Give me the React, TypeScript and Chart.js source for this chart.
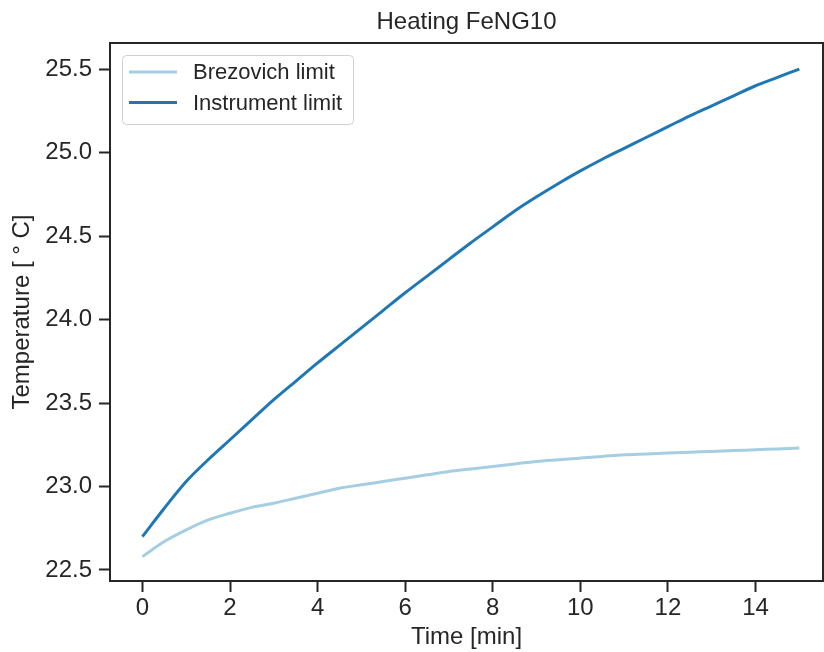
import React, { useEffect, useRef } from "react";
import { Chart, registerables } from "chart.js";

Chart.register(...registerables);

const timeMin = [0, 0.5, 1, 1.5, 2, 2.5, 3, 3.5, 4, 4.5, 5, 5.5, 6, 6.5, 7, 7.5, 8, 8.5, 9, 9.5, 10, 10.5, 11, 11.5, 12, 12.5, 13, 13.5, 14, 14.5, 15];
const brezovich = [22.58, 22.67, 22.74, 22.80, 22.84, 22.875, 22.90, 22.93, 22.96, 22.99, 23.01, 23.03, 23.05, 23.07, 23.09, 23.105, 23.12, 23.135, 23.15, 23.16, 23.17, 23.18, 23.19, 23.195, 23.20, 23.205, 23.21, 23.215, 23.22, 23.225, 23.23];
const instrument = [22.70, 22.87, 23.03, 23.16, 23.28, 23.40, 23.52, 23.63, 23.74, 23.845, 23.95, 24.055, 24.16, 24.26, 24.36, 24.46, 24.555, 24.65, 24.735, 24.815, 24.89, 24.96, 25.025, 25.09, 25.155, 25.22, 25.28, 25.34, 25.40, 25.45, 25.50];
const seriesLabels = ["Brezovich limit", "Instrument limit"];
const seriesColors = ["#a6cee3", "#1f78b4"];
const xTicks = [0, 2, 4, 6, 8, 10, 12, 14];
const yTicks = [22.5, 23.0, 23.5, 24.0, 24.5, 25.0, 25.5];
const titleText = "Heating FeNG10";
const xTitle = "Time [min]";
const yTitle = "Temperature [ ° C]";

const FONT = "Arial, 'Liberation Sans', Helvetica, sans-serif";
const INK = "#262626";

const framePlugin = {
  id: "frame",
  beforeDatasetsDraw(chart: any) {
    const { ctx, chartArea: a } = chart;
    ctx.save();
    ctx.strokeStyle = INK;
    ctx.lineWidth = 2;
    ctx.strokeRect(a.left, a.top, a.right - a.left, a.bottom - a.top);
    ctx.restore();
  },
  afterDraw(chart: any) {
    const { ctx, chartArea: a } = chart;
    ctx.save();
    ctx.fillStyle = INK;
    ctx.font = `24px ${FONT}`;
    ctx.textAlign = "center";
    ctx.textBaseline = "middle";
    ctx.fillText(titleText, (a.left + a.right) / 2, 22);
    ctx.restore();
  },
};

const legendPlugin = {
  id: "boxLegend",
  afterDraw(chart: any) {
    const { ctx, chartArea: a } = chart;
    const x0 = a.left + 12;
    const y0 = a.top + 12;
    const w = 231;
    const h = 69;
    ctx.save();
    ctx.beginPath();
    ctx.roundRect(x0 + 0.5, y0 + 0.5, w, h, 4);
    ctx.fillStyle = "rgba(255,255,255,0.85)";
    ctx.fill();
    ctx.strokeStyle = "#d0d0d0";
    ctx.lineWidth = 1;
    ctx.stroke();
    ctx.font = `22px ${FONT}`;
    ctx.textBaseline = "middle";
    ctx.textAlign = "left";
    chart.data.datasets.forEach((ds: any, i: number) => {
      const yy = y0 + 17 + i * 30.6;
      ctx.beginPath();
      ctx.strokeStyle = ds.borderColor;
      ctx.lineWidth = 3;
      ctx.moveTo(x0 + 7, yy);
      ctx.lineTo(x0 + 55, yy);
      ctx.stroke();
      ctx.fillStyle = INK;
      ctx.fillText(ds.label, x0 + 71, yy + 1);
    });
    ctx.restore();
  },
};

export default function App() {
  const ref = useRef<HTMLCanvasElement | null>(null);
  useEffect(() => {
    if (!ref.current) return;
    const mk = (ys: number[]) => timeMin.map((t, i) => ({ x: t, y: ys[i] }));
    const chart = new Chart(ref.current, {
      type: "line",
      data: {
        datasets: [
          { label: seriesLabels[0], data: mk(brezovich), borderColor: seriesColors[0], backgroundColor: seriesColors[0], borderWidth: 3, pointRadius: 0, cubicInterpolationMode: "monotone", fill: false },
          { label: seriesLabels[1], data: mk(instrument), borderColor: seriesColors[1], backgroundColor: seriesColors[1], borderWidth: 3, pointRadius: 0, cubicInterpolationMode: "monotone", fill: false },
        ],
      },
      options: {
        animation: false,
        responsive: false,
        maintainAspectRatio: false,
        layout: { padding: { left: 0, right: 1, top: 43, bottom: 0 } },
        plugins: {
          legend: { display: false },
          tooltip: { enabled: false },
          title: { display: false },
        },
        scales: {
          x: {
            type: "linear",
            min: -0.74,
            max: 15.54,
            afterBuildTicks: (s: any) => { s.ticks = xTicks.map((v) => ({ value: v })); },
            afterFit: (s: any) => { s.height = 71; },
            border: { display: false },
            grid: { display: true, drawOnChartArea: false, drawTicks: true, tickLength: 11, tickWidth: 2, tickColor: INK },
            ticks: { color: INK, font: { family: FONT, size: 24 }, padding: 2, maxRotation: 0, callback: (v: any) => String(v) },
            title: { display: true, text: xTitle, color: INK, font: { family: FONT, size: 24 }, padding: { top: 0, bottom: 0 } },
          },
          y: {
            type: "linear",
            min: 22.434,
            max: 25.656,
            afterBuildTicks: (s: any) => { s.ticks = yTicks.map((v) => ({ value: v })); },
            afterFit: (s: any) => { s.width = 110; },
            border: { display: false },
            grid: { display: true, drawOnChartArea: false, drawTicks: true, tickLength: 11, tickWidth: 2, tickColor: INK },
            ticks: { color: INK, font: { family: FONT, size: 24 }, padding: 7, callback: (v: any) => Number(v).toFixed(1) },
            title: { display: true, text: yTitle, color: INK, font: { family: FONT, size: 24 }, padding: { top: 7.6, bottom: 0 } },
          },
        },
      },
      plugins: [framePlugin, legendPlugin],
    });
    return () => chart.destroy();
  }, []);
  return (
    <div style={{ position: "fixed", left: 0, top: 0, width: 824, height: 652, background: "#fff" }}>
      <canvas ref={ref} width={824} height={652} style={{ display: "block" }} />
    </div>
  );
}
